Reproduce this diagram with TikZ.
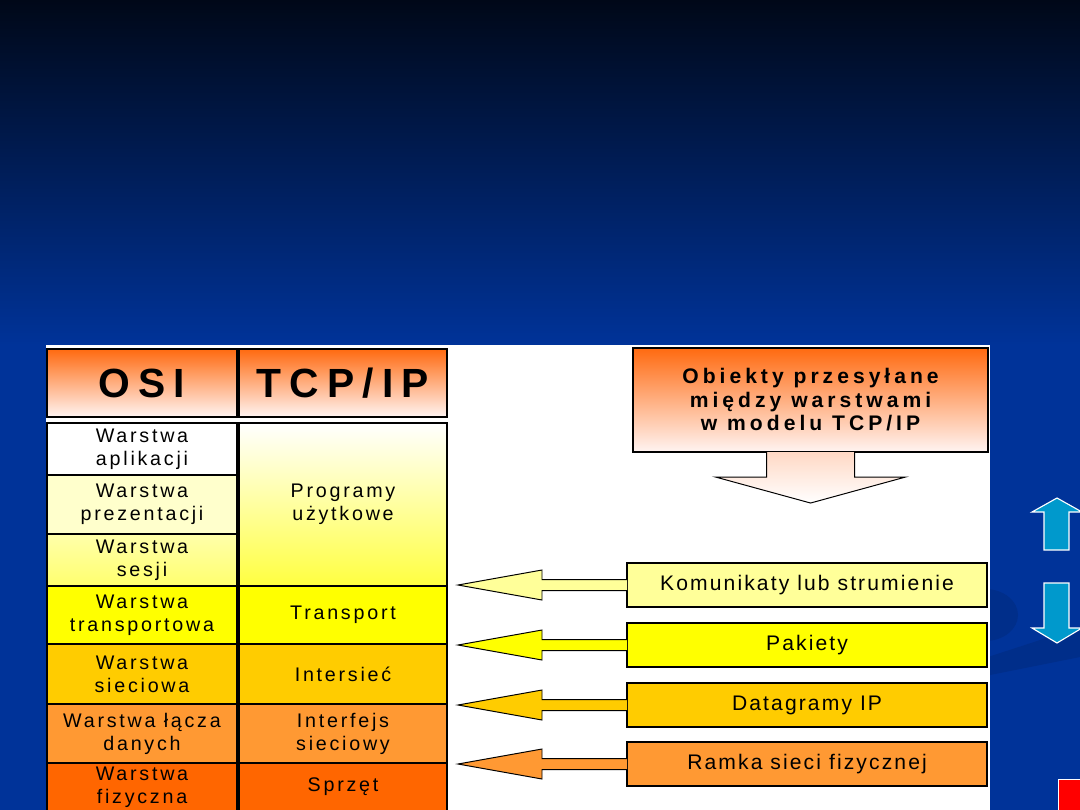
\documentclass[tikz,border=0pt]{standalone}
\usepackage{fontspec}
\setmainfont{Liberation Sans}
\newfontfamily\cellfont[LetterSpace=14]{Liberation Sans}
\newfontfamily\boxfont[LetterSpace=10]{Liberation Sans}
\newfontfamily\headfont[LetterSpace=20]{Liberation Sans}
\newfontfamily\objfont[LetterSpace=19]{Liberation Sans}
\usetikzlibrary{calc,positioning}
\definecolor{BgTop}{HTML}{000818}
\definecolor{BgBlue}{HTML}{003399}
\definecolor{SwooshBlue}{HTML}{002E8A}
\definecolor{HdrOrange}{HTML}{FF6A10}
\definecolor{HdrPale}{HTML}{FFF4F2}
\definecolor{AppPale}{HTML}{FFFFCC}
\definecolor{SesTop}{HTML}{FFFFAA}
\definecolor{SesBot}{HTML}{FFFF6E}
\definecolor{ProgYellow}{HTML}{FFFF40}
\definecolor{TrYellow}{HTML}{FFFF00}
\definecolor{NetAmber}{HTML}{FFCC00}
\definecolor{LinkOrange}{HTML}{FF9933}
\definecolor{PhysOrange}{HTML}{FF6600}
\definecolor{MsgYellow}{HTML}{FFFF99}
\definecolor{ArrowCyan}{HTML}{0099CC}
\definecolor{MarkRed}{HTML}{FF0000}
\tikzset{
  cell/.style={rectangle, draw=black, line width=1.2pt, inner sep=0pt, outer sep=0pt,
               align=center, font=\cellfont\fontsize{14}{16.4}\selectfont},
  osicell/.style={cell, minimum width=4.75cm},
  tcpcell/.style={cell, minimum width=5.2cm},
  hdrcell/.style={minimum height=1.7cm, top color=HdrOrange, bottom color=HdrPale,
               font=\headfont\bfseries\fontsize{29}{30}\selectfont},
  objbox/.style={rectangle, draw=black, line width=1pt, inner sep=0pt, outer sep=0pt,
               align=center, minimum width=9cm, minimum height=1.1cm,
               font=\boxfont\fontsize{15}{16.7}\selectfont},
  blockarrow/.style={draw=black, line width=0.7pt, line join=miter},
  cyanarrow/.style={fill=ArrowCyan, draw=white, line width=0.8pt},
}
\begin{document}
\begin{tikzpicture}[x=0.025cm, y=-0.025cm]
\useasboundingbox (0,0) rectangle (1080,810);
% slide background
\fill[BgBlue] (0,0) rectangle (1080,810);
\shade[top color=BgTop, bottom color=BgBlue] (0,0) rectangle (1080,345);
\fill[SwooshBlue] (985,615) ellipse [x radius=33, y radius=26];
\fill[SwooshBlue] (985,658) -- (1080,627) -- (1080,657) -- (985,676) -- cycle;
\fill[white] (46,345) rectangle (990,815);

% OSI column
\node[osicell, hdrcell, anchor=north west] (osi) at (47,349) {OSI};
\node[osicell, minimum height=1.3cm, fill=white, anchor=north west] (apl) at (47,423) {Warstwa\\aplikacji};
\node[osicell, minimum height=1.475cm, fill=AppPale, below=0pt of apl] (prez) {Warstwa\\prezentacji};
\node[osicell, minimum height=1.3cm, top color=SesTop, bottom color=SesBot, below=0pt of prez] (ses) {Warstwa\\sesji};
\node[osicell, minimum height=1.45cm, fill=TrYellow, below=0pt of ses] (trans) {Warstwa\\transportowa};
\node[osicell, minimum height=1.5cm, fill=NetAmber, below=0pt of trans] (siec) {Warstwa\\sieciowa};
\node[osicell, minimum height=1.475cm, fill=LinkOrange, below=0pt of siec] (lacz) {Warstwa łącza\\danych};
\node[osicell, minimum height=1.2cm, fill=PhysOrange, below=0pt of lacz] (fiz) {Warstwa\\fizyczna};

% TCP/IP column
\node[tcpcell, hdrcell, anchor=north west] (tcpip) at (239,349) {TCP/IP};
\node[tcpcell, minimum height=4.075cm, top color=white, bottom color=ProgYellow, anchor=north west] (prog) at (239,423) {Programy\\użytkowe};
\node[tcpcell, minimum height=1.45cm, fill=TrYellow, below=0pt of prog] (tport) {Transport};
\node[tcpcell, minimum height=1.5cm, fill=NetAmber, below=0pt of tport] (inet) {Intersieć};
\node[tcpcell, minimum height=1.475cm, fill=LinkOrange, below=0pt of inet] (iface) {Interfejs\\sieciowy};
\node[tcpcell, minimum height=1.2cm, fill=PhysOrange, below=0pt of iface] (hw) {Sprzęt};

% objects passed between layers
\node[objbox, minimum width=8.875cm, minimum height=2.6cm, top color=HdrOrange, bottom color=HdrPale,
      anchor=north west, font=\objfont\bfseries\fontsize{15}{16.7}\selectfont] (obj) at (633,348)
      {Obiekty przesyłane\\między warstwami\\w modelu TCP/IP};
\draw[blockarrow, top color=HdrPale!80!HdrOrange, bottom color=white]
  ($(obj.south)+(-44,0)$) -- ++(0,25) -- ++(-51,0) -- ($(obj.south)+(0,51)$)
  -- ($(obj.south)+(95,25)$) -- ++(-51,0) -- ($(obj.south)+(44,0)$);

\node[objbox, fill=MsgYellow, anchor=north west] (kom) at (627,563) {Komunikaty lub strumienie};
\node[objbox, fill=TrYellow, anchor=north west] (pak) at (627,623) {Pakiety};
\node[objbox, fill=NetAmber, anchor=north west] (dgr) at (627,683) {Datagramy IP};
\node[objbox, fill=LinkOrange, anchor=north west] (ram) at (627,742) {Ramka sieci fizycznej};

\foreach \b/\c in {kom/MsgYellow, pak/TrYellow, dgr/NetAmber, ram/LinkOrange}{
  \draw[blockarrow, fill=\c] ($(\b.west)+(0,-5.5)$) -- ++(-85,0) -- ++(0,-9.5)
    -- ($(\b.west)+(-169,0)$) -- ($(\b.west)+(-85,15)$) -- ++(0,-9.5) -- ($(\b.west)+(0,5.5)$);
}

% slide navigation marks
\draw[cyanarrow] (1057,498) -- (1082,512) -- (1069,512) -- (1069,550) -- (1044,550)
  -- (1044,512) -- (1032,512) -- cycle;
\draw[cyanarrow] (1057,643) -- (1082,628) -- (1069,628) -- (1069,583) -- (1044,583)
  -- (1044,628) -- (1032,628) -- cycle;
\draw[fill=MarkRed, draw=white, line width=0.6pt] (1058,779) rectangle (1084,815);
\end{tikzpicture}
\end{document}
